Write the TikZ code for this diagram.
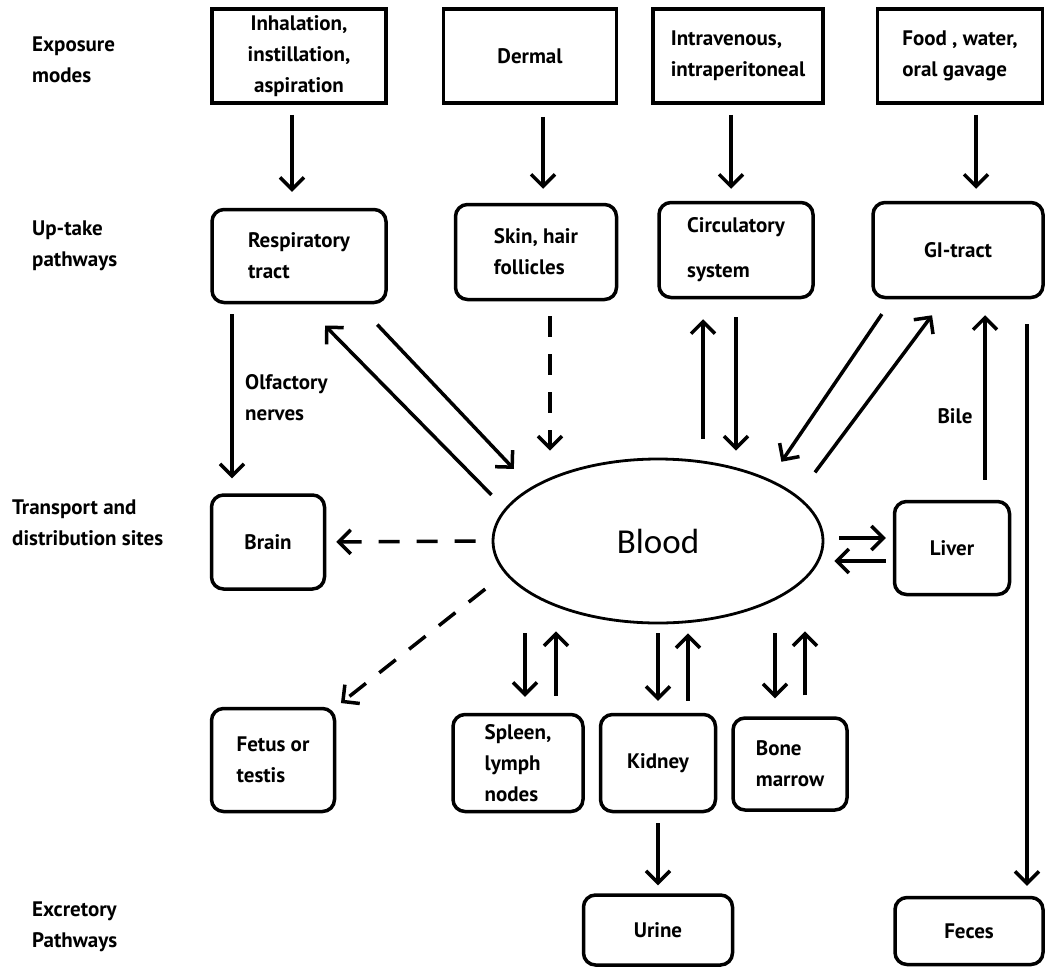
\documentclass[tikz,border=0pt]{standalone}
\usepackage{fontspec}
\setmainfont{PT Sans}
\newfontfamily\bloodfont{Carlito}
\usetikzlibrary{arrows.meta,shapes.geometric}
\tikzstyle{mode box}=[draw=black, line width=3.5pt, shape=rectangle, align=center, inner sep=3pt]
\tikzstyle{site box}=[draw=black, line width=3.5pt, shape=rectangle, rounded corners=12pt, align=left, inner sep=3pt]
\tikzstyle{blood}=[draw=black, line width=2.8pt, shape=ellipse, minimum width=330pt, minimum height=164pt, inner sep=0pt, font=\bloodfont\fontsize{35}{40}\selectfont]
\tikzstyle{level label}=[align=left, inner sep=0pt]
\tikzstyle{arrow edge}=[-{Straight Barb[length=12pt,width=24pt]}, draw=black, line width=3.5pt]
\tikzstyle{dashed edge}=[arrow edge, dash pattern=on 21pt off 17pt]
\pgfdeclarelayer{nodelayer}
\pgfdeclarelayer{edgelayer}
\pgfsetlayers{nodelayer,edgelayer,main}
\begin{document}
\begin{tikzpicture}[x=1pt, y=-1pt, every node/.style={font=\bfseries\fontsize{21}{31}\selectfont}]
	\useasboundingbox (0, 0) rectangle (1047, 967);
	\begin{pgfonlayer}{nodelayer}
		\node [style=level label, anchor=west] (0) at (32, 60) {Exposure\\modes};
		\node [style=level label, anchor=west] (1) at (32, 246) {Up-take\\pathways};
		\node [style=level label, anchor=west] (2) at (12, 523) {Transport and\\distribution sites};
		\node [style=level label, anchor=west] (3) at (32, 927) {Excretory\\Pathways};
		\node [style=mode box, minimum width=174pt, minimum height=94pt] (4) at (299, 56) {Inhalation,\\instillation,\\aspiration};
		\node [style=mode box, minimum width=173pt, minimum height=94pt] (5) at (530, 56) {Dermal};
		\node [style=mode box, align=left, minimum width=170pt, minimum height=94pt] (6) at (738, 56) {Intravenous,\\intraperitoneal};
		\node [style=mode box, align=left, minimum width=165pt, minimum height=94pt] (7) at (960, 56) {Food , water,\\oral gavage};
		\node [style=site box, minimum width=174pt, minimum height=93pt] (8) at (299, 256) {Respiratory\\tract};
		\node [style=site box, minimum width=161pt, minimum height=95pt] (9) at (536, 252) {Skin, hair\\follicles};
		\node [style=site box, minimum width=154pt, minimum height=95pt] (10) at (736, 250) {Circulatory\\[14pt]system};
		\node [style=site box, minimum width=170pt, minimum height=95pt] (11) at (958, 250) {GI-tract};
		\node [style=blood] (12) at (658, 541) {Blood};
		\node [style=site box, minimum width=113pt, minimum height=94pt] (13) at (268, 542) {Brain};
		\node [style=site box, minimum width=115pt, minimum height=93pt] (14) at (952, 548) {Liver};
		\node [style=site box, minimum width=123pt, minimum height=103pt] (15) at (273, 760) {Fetus or\\testis};
		\node [style=site box, minimum width=130pt, minimum height=97pt] (16) at (518, 763) {Spleen,\\lymph\\nodes};
		\node [style=site box, minimum width=115pt, minimum height=97pt] (17) at (658, 763) {Kidney};
		\node [style=site box, minimum width=114pt, minimum height=92pt] (18) at (790, 764) {Bone\\marrow};
		\node [style=site box, minimum width=149pt, minimum height=70pt] (19) at (658, 930) {Urine};
		\node [style=site box, minimum width=148pt, minimum height=67pt] (20) at (969, 931) {Feces};
		\node [style=level label, anchor=west] (21) at (245, 398) {Olfactory\\nerves};
		\node [style=level label] (22) at (955, 416) {Bile};
	\end{pgfonlayer}
	\begin{pgfonlayer}{edgelayer}
		% exposure to up-take
		\draw [style=arrow edge, shorten <=10pt, shorten >=16pt] ([xshift=-7pt]4.south) to ([xshift=-7pt]4.south |- 8.north);
		\draw [style=arrow edge, shorten <=12pt, shorten >=14pt] ([xshift=13pt]5.south) to ([xshift=13pt]5.south |- 9.north);
		\draw [style=arrow edge, shorten <=10pt, shorten >=12pt] ([xshift=-7pt]6.south) to ([xshift=-7pt]6.south |- 10.north);
		\draw [style=arrow edge, shorten <=10pt, shorten >=12pt] ([xshift=16pt]7.south) to ([xshift=16pt]7.south |- 11.north);
		% up-take to blood and brain
		\draw [style=arrow edge, shorten <=10pt, shorten >=15pt] ([xshift=-67pt]8.south) to ([xshift=-67pt]8.south |- 13.north);
		\draw [style=arrow edge, shorten <=19pt, shorten >=30pt] (12.168) to ([xshift=5pt]8.south);
		\draw [style=arrow edge, shorten <=28pt, shorten >=25pt] ([xshift=59pt]8.south) to (12.157);
		\draw [style=dashed edge, shorten <=15pt, shorten >=7pt] ([xshift=14pt]9.south) to ([xshift=14pt]9.south |- 12.north);
		\draw [style=arrow edge, shorten <=19pt, shorten >=20pt] ([xshift=-33pt]10.south |- 12.north) to ([xshift=-33pt]10.south);
		\draw [style=arrow edge, shorten <=18pt, shorten >=7pt] (10.south) to (10.south |- 12.north);
		\draw [style=arrow edge, shorten <=18pt, shorten >=21pt] ([xshift=-66pt]11.south) to (12.29);
		\draw [style=arrow edge, shorten <=29pt, shorten >=20pt] (12.18) to ([xshift=-14pt]11.south);
		\draw [style=arrow edge, shorten <=20pt, shorten >=16pt] ([xshift=33pt]14.north) to ([xshift=33pt]14.north |- 11.south);
		\draw [style=arrow edge, shorten <=25pt, shorten >=10pt] ([xshift=69pt]11.south) to ([xshift=69pt]11.south |- 20.north);
		% blood to sites
		\draw [style=arrow edge, shorten <=15pt, shorten >=7pt] ([yshift=10pt]14.west -| 12.east) to ([yshift=10pt]14.west);
		\draw [style=arrow edge, shorten <=7pt, shorten >=10pt] ([yshift=-13pt]14.west) to ([yshift=-13pt]14.west -| 12.east);
		\draw [style=dashed edge, shorten <=16pt, shorten >=10pt] (12.west) to (13.east);
		\draw [style=dashed edge, shorten <=25pt, shorten >=6pt] (12.192) to (15.north east);
		\draw [style=arrow edge, shorten <=9pt, shorten >=16pt] ([xshift=7pt]16.north |- 12.south) to ([xshift=7pt]16.north);
		\draw [style=arrow edge, shorten <=17pt, shorten >=7pt] ([xshift=38pt]16.north) to ([xshift=38pt]16.north |- 12.south);
		\draw [style=arrow edge, shorten <=9pt, shorten >=12pt] (17.north |- 12.south) to (17.north);
		\draw [style=arrow edge, shorten <=12pt, shorten >=9pt] ([xshift=30pt]17.north) to ([xshift=30pt]17.north |- 12.south);
		\draw [style=arrow edge, shorten <=9pt, shorten >=18pt] ([xshift=-15pt]18.north |- 12.south) to ([xshift=-15pt]18.north);
		\draw [style=arrow edge, shorten <=21pt, shorten >=7pt] ([xshift=15pt]18.north) to ([xshift=15pt]18.north |- 12.south);
		% excretion
		\draw [style=arrow edge, shorten <=10pt, shorten >=8pt] (17.south) to (17.south |- 19.north);
	\end{pgfonlayer}
\end{tikzpicture}
\end{document}
